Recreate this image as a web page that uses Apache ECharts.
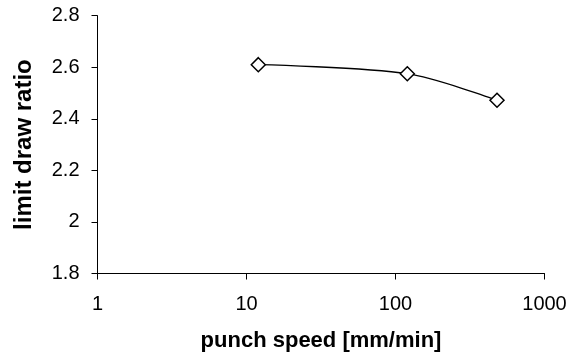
<!DOCTYPE html>
<html>
<head>
<meta charset="utf-8">
<script src="https://cdn.jsdelivr.net/npm/echarts@6/dist/echarts.min.js"></script>
<style>html,body{margin:0;padding:0;background:#fff;}#c{width:578px;height:361px;}</style>
</head>
<body>
<div id="c"></div>
<script>
const punchSpeed = [12, 120, 480];
const limitDrawRatio = [2.61, 2.575, 2.472];
const xTitle = 'punch speed [mm/min]';
const yTitle = 'limit draw ratio';

const chart = echarts.init(document.getElementById('c'), null, {renderer: 'canvas'});
const font = '"Liberation Sans", Arial, sans-serif';
chart.setOption({
  animation: false,
  backgroundColor: '#ffffff',
  grid: {left: 97.5, right: 33.5, top: 15.7, bottom: 87.5, containLabel: false},
  xAxis: {
    type: 'log', logBase: 10, min: 1, max: 1000,
    name: xTitle, nameLocation: 'middle', nameGap: 56,
    nameTextStyle: {fontFamily: font, fontSize: 22, fontWeight: 'bold', color: '#000'},
    axisLine: {onZero: false, lineStyle: {color: '#000', width: 1}},
    axisTick: {show: true, inside: false, length: 6, lineStyle: {color: '#000'}},
    minorTick: {show: false},
    splitLine: {show: false},
    axisLabel: {fontFamily: font, fontSize: 20, color: '#000', margin: 21,
      formatter: v => String(Math.round(v))}
  },
  yAxis: {
    type: 'value', min: 1.8, max: 2.8, interval: 0.2,
    name: yTitle, nameLocation: 'middle', nameGap: 61, nameRotate: 90,
    nameTextStyle: {fontFamily: font, fontSize: 24, fontWeight: 'bold', color: '#000'},
    axisLine: {show: true, lineStyle: {color: '#000', width: 1}},
    axisTick: {show: true, inside: false, length: 6, lineStyle: {color: '#000'}},
    splitLine: {show: false},
    axisLabel: {fontFamily: font, fontSize: 20, color: '#000', margin: 18,
      formatter: v => String(parseFloat(v.toFixed(1)))}
  },
  series: [{
    type: 'line',
    data: punchSpeed.map((x, i) => [x, limitDrawRatio[i]]),
    smooth: 0.3,
    symbol: 'diamond',
    symbolSize: 14,
    itemStyle: {color: '#fff', borderColor: '#000', borderWidth: 1.5},
    lineStyle: {color: '#000', width: 1.3}
  }]
});
</script>
</body>
</html>
